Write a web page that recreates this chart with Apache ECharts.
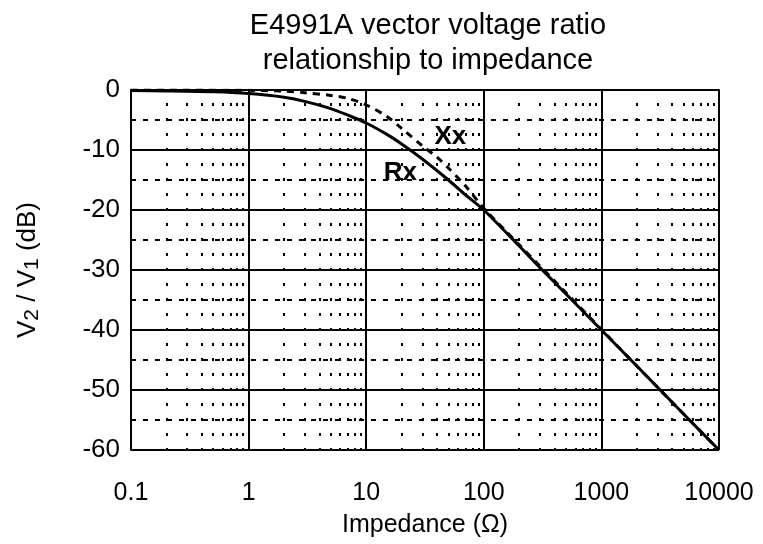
<!DOCTYPE html>
<html>
<head>
<meta charset="utf-8">
<script src="https://cdn.jsdelivr.net/npm/echarts@6/dist/echarts.min.js"></script>
<style>
  html, body { margin: 0; padding: 0; background: #fff; }
  #chart { width: 763px; height: 544px; }
</style>
</head>
<body>
<div id="chart"></div>
<script>
// values
var rxImpedance = [0.1, 0.2, 0.5, 1, 2, 3, 5, 7, 10, 15, 20, 30, 50, 70, 100, 200, 300, 500, 1000, 2000, 5000, 10000];
var rxRatio = [-0.1, -0.15, -0.3, -0.6, -1.2, -1.9, -3.1, -4.2, -5.5, -7.4, -9.0, -11.5, -15.0, -17.5, -20.0, -26.0, -29.6, -34.0, -40.0, -46.0, -54.0, -60.0];
var xxImpedance = [0.1, 1, 2, 3, 5, 7, 10, 15, 20, 30, 40, 50, 70, 100, 200, 500, 1000, 2000, 5000, 10000];
var xxRatio = [0, -0.05, -0.2, -0.45, -0.9, -1.4, -2.5, -4.4, -6.4, -9.3, -11.2, -13.0, -16.0, -19.7, -25.8, -33.8, -39.9, -46.0, -54.0, -60.0];
var xTickLabels = ['0.1', '1', '10', '100', '1000', '10000'];
var minorDecades = [0.1, 1, 10, 100, 1000];
var minorSteps = [2, 3, 4, 5, 6, 7, 8, 9];

var rxData = rxImpedance.map(function (z, i) { return [z, rxRatio[i]]; });
var xxData = xxImpedance.map(function (z, i) { return [z, xxRatio[i]]; });

// dotted verticals at 2..9 of each decade
var minorLines = [];
minorDecades.forEach(function (d) {
    minorSteps.forEach(function (s) {
        minorLines.push({ xAxis: +(d * s).toPrecision(3) });
    });
});

var font = 'Liberation Sans';

var chart = echarts.init(document.getElementById('chart'));
chart.setOption({
    animation: false,
    title: {
        text: 'E4991A vector voltage ratio\nrelationship to impedance',
        left: 423,
        top: 3,
        textAlign: 'center',
        textStyle: {
            fontFamily: font,
            fontWeight: 'normal',
            fontSize: 29,
            lineHeight: 35,
            color: '#000'
        }
    },
    grid: {
        left: 131,
        right: 44,
        top: 90,
        bottom: 94,
        outerBoundsMode: 'none'
    },
    xAxis: {
        type: 'log',
        logBase: 10,
        min: 0.1,
        max: 10000,
        name: 'Impedance (Ω)',
        nameLocation: 'middle',
        nameGap: 63,
        nameTextStyle: { fontFamily: font, fontSize: 25, color: '#000' },
        axisLine: { lineStyle: { color: '#000', width: 2 } },
        axisTick: { show: false },
        axisLabel: {
            margin: 31,
            fontFamily: font,
            fontSize: 25,
            color: '#000',
            formatter: function (v) {
                var idx = Math.round(Math.log10(v)) + 1;
                return xTickLabels[idx] !== undefined ? xTickLabels[idx] : '';
            }
        },
        splitLine: { show: true, lineStyle: { color: '#000', width: 2 } }
    },
    yAxis: {
        type: 'value',
        min: -60,
        max: 0,
        interval: 10,
        name: '{n|V}{s|2}{n| / V}{s|1}{n| (dB)}',
        nameLocation: 'middle',
        nameGap: 88,
        nameRotate: 90,
        nameTextStyle: {
            rich: {
                n: { fontFamily: font, fontSize: 26, color: '#000' },
                s: { fontFamily: font, fontSize: 21, color: '#000', padding: [10, 0, 0, 0] }
            }
        },
        axisLine: { show: true, lineStyle: { color: '#000', width: 2 } },
        axisTick: { show: false },
        axisLabel: {
            margin: 11,
            fontFamily: font,
            fontSize: 26,
            color: '#000'
        },
        splitLine: { show: true, lineStyle: { color: '#000', width: 2 } },
        minorTick: { show: false, splitNumber: 2 },
        minorSplitLine: {
            show: true,
            lineStyle: { color: '#000', width: 2, type: [5, 7] }
        }
    },
    series: [
        {
            name: 'minor',
            type: 'line',
            data: [],
            silent: true,
            markLine: {
                silent: true,
                symbol: 'none',
                label: { show: false },
                lineStyle: { color: '#000', width: 2, type: [3, 12], dashOffset: 1 },
                data: minorLines
            }
        },
        {
            name: 'Rx',
            type: 'line',
            data: rxData,
            smooth: 0.3,
            showSymbol: false,
            lineStyle: { color: '#000', width: 3 },
            markPoint: {
                symbol: 'circle',
                symbolSize: 0,
                label: {
                    show: true,
                    formatter: 'Rx',
                    fontFamily: font,
                    fontWeight: 'bold',
                    fontSize: 26,
                    color: '#000'
                },
                data: [{ coord: [19.5, -13.8] }]
            },
            z: 3
        },
        {
            name: 'Xx',
            type: 'line',
            data: xxData,
            smooth: 0.3,
            showSymbol: false,
            lineStyle: { color: '#000', width: 3, type: [7, 6] },
            markPoint: {
                symbol: 'circle',
                symbolSize: 0,
                label: {
                    show: true,
                    formatter: 'Xx',
                    fontFamily: font,
                    fontWeight: 'bold',
                    fontSize: 26,
                    color: '#000'
                },
                data: [{ coord: [52, -7.8] }]
            },
            z: 3
        }
    ]
});
</script>
</body>
</html>
